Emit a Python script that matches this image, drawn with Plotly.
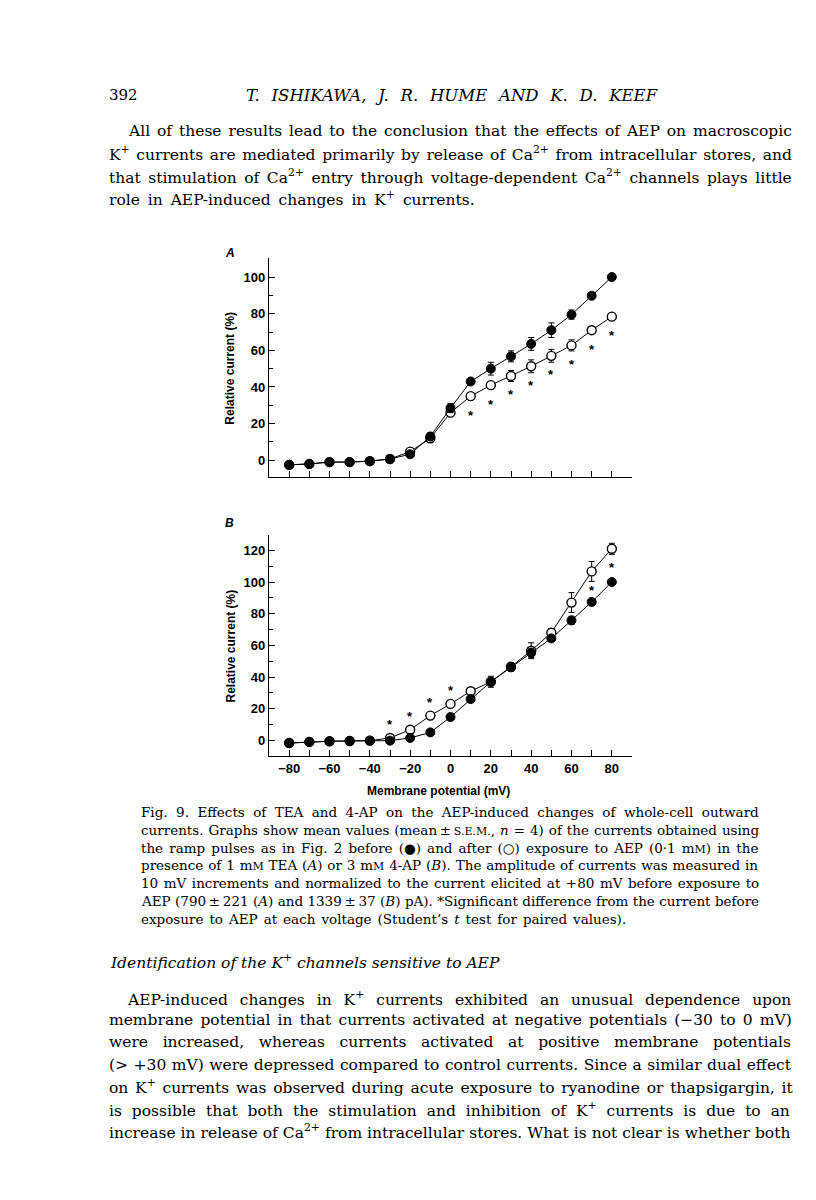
import plotly.graph_objects as go

W, H = 816, 1200

# ---------------- data ----------------
voltage = [-80, -70, -60, -50, -40, -30, -20, -10, 0, 10, 20, 30, 40, 50, 60, 70, 80]

# Panel A (1 mM TEA)
a_before = [-2.5, -2, -1, -1, -0.5, 0.7, 3.3, 13, 28.5, 43, 50, 56.7, 63.5, 71, 79.5, 89.8, 100]
a_before_err = [0, 0, 0, 0, 0, 0, 1, 2, 2.5, 1.5, 3.5, 3, 3.5, 4, 2.5, 1.5, 0]
a_after = [-2.5, -2, -1, -1, -0.5, 0.7, 4.7, 12, 26, 35, 41, 46, 51.3, 57, 62.7, 71, 78.4]
a_after_err = [0, 0, 0, 0, 0, 0, 1, 2, 1.5, 1.5, 1.5, 3, 3.5, 3.5, 3, 1.5, 1.5]
a_sig = [10, 20, 30, 40, 50, 60, 70, 80]          # significant voltages
a_sig_side = ["below"] * 8

# Panel B (3 mM 4-AP)
b_before = [-1.7, -1, -0.6, -0.4, -0.2, -0.2, 1.5, 5, 14.7, 26.1, 37, 46.1, 55.2, 64.4, 75.8, 87.4, 100]
b_before_err = [0, 0, 0, 0, 0, 0, 0, 1, 1.5, 1.5, 3.5, 2.5, 3, 2, 2.5, 1.5, 0]
b_after = [-1.7, -1, -0.6, -0.4, -0.2, 1.5, 6.7, 15.6, 23, 31, 37, 46.5, 56.6, 68, 87, 106.7, 121]
b_after_err = [0, 0, 0, 0, 0, 0, 1, 1, 1.5, 2, 2, 2, 5, 2.5, 6.3, 6.3, 3.5]
b_sig = [-30, -20, -10, 0, 70, 80]
b_sig_side = ["above", "above", "above", "above", "below", "below"]

x_major_ticks = [-80, -60, -40, -20, 0, 20, 40, 60, 80]

# ---------------- page text ----------------
page_number = "392"
running_head = "T. ISHIKAWA, J. R. HUME AND K. D. KEEF"
para1 = [
    "All of these results lead to the conclusion that the effects of AEP on macroscopic",
    "K<sup>+</sup> currents are mediated primarily by release of Ca<sup>2+</sup> from intracellular stores, and",
    "that stimulation of Ca<sup>2+</sup> entry through voltage-dependent Ca<sup>2+</sup> channels plays little",
    "role in AEP-induced changes in K<sup>+</sup> currents.",
]
para1_spacing = [2.0, 1.7, 2.6, 3.0]
SC = "<span style='font-size:11px'>%s</span>"
caption = [
    "Fig. 9. Effects of TEA and 4-AP on the AEP-induced changes of whole-cell outward",
    "currents. Graphs show mean values (mean\u2009±\u2009" + SC % "S.E.M." + ", <i>n</i> = 4) of the currents obtained using",
    "the ramp pulses as in Fig. 2 before (●) and after (○) exposure to AEP (0·1 m" + SC % "M" + ") in the",
    "presence of 1 m" + SC % "M" + " TEA (<i>A</i>) or 3 m" + SC % "M" + " 4-AP (<i>B</i>). The amplitude of currents was measured in",
    "10 mV increments and normalized to the current elicited at +80 mV before exposure to",
    "AEP (790\u2009±\u2009221 (<i>A</i>) and 1339\u2009±\u200937 (<i>B</i>) pA). *Significant difference from the current before",
    "exposure to AEP at each voltage (Student’s <i>t</i> test for paired values).",
]
caption_spacing = [4.15, 0.67, 1.8, 0.6, 1.25, 0.1, 1.7]
heading = "Identification of the K<sup>+</sup> channels sensitive to AEP"
para2 = [
    "AEP-induced changes in K<sup>+</sup> currents exhibited an unusual dependence upon",
    "membrane potential in that currents activated at negative potentials (−30 to 0 mV)",
    "were increased, whereas currents activated at positive membrane potentials",
    "(> +30 mV) were depressed compared to control currents. Since a similar dual effect",
    "on K<sup>+</sup> currents was observed during acute exposure to ryanodine or thapsigargin, it",
    "is possible that both the stimulation and inhibition of K<sup>+</sup> currents is due to an",
    "increase in release of Ca<sup>2+</sup> from intracellular stores. What is not clear is whether both",
]
para2_spacing = [7.0, 2.2, 9.7, 0.6, 1.8, 5.0, 0.1]

# ---------------- figure ----------------
fig = go.Figure()

def add_panel(xa, ya, before, berr, after, aerr):
    fig.add_trace(go.Scatter(
        x=voltage, y=after, mode="lines+markers", xaxis=xa, yaxis=ya,
        line=dict(color="black", width=1),
        marker=dict(symbol="circle", size=9, color="white", line=dict(color="black", width=1.4)),
        error_y=dict(type="data", array=aerr, visible=True, color="black", thickness=1, width=3),
        showlegend=False, cliponaxis=False))
    fig.add_trace(go.Scatter(
        x=voltage, y=before, mode="lines+markers", xaxis=xa, yaxis=ya,
        line=dict(color="black", width=1),
        marker=dict(symbol="circle", size=9, color="black", line=dict(color="black", width=1)),
        error_y=dict(type="data", array=berr, visible=True, color="black", thickness=1, width=3),
        showlegend=False, cliponaxis=False))

add_panel("x", "y", a_before, a_before_err, a_after, a_after_err)
add_panel("x2", "y2", b_before, b_before_err, b_after, b_after_err)

def px_x(p):
    return p / W

def px_y(p):
    return 1 - p / H

ann = []
# asterisks
for xs, side, ser, xr, yr in [(a_sig, a_sig_side, a_after, "x", "y"),
                              (b_sig, b_sig_side, b_after, "x2", "y2")]:
    for v, s in zip(xs, side):
        yv = ser[voltage.index(v)]
        ann.append(dict(x=v, y=yv, xref=xr, yref=yr, text="*", showarrow=False,
                        yshift=(16 if s == "above" else -16) - 3,
                        font=dict(family="Liberation Sans", size=13, color="black", weight="bold")))

axis_font = dict(family="Liberation Sans", size=13, color="black", weight="bold")
title_font = dict(family="Liberation Sans", size=12, color="black", weight="bold")
# y titles
for cy in [(250 + 469.3) / 2, (526.7 + 748.3) / 2]:
    ann.append(dict(x=px_x(222), y=px_y(cy), xref="paper", yref="paper", text="Relative current (%)",
                    textangle=-90, showarrow=False, xanchor="center", yanchor="middle", font=title_font))
ann.append(dict(x=px_x(430), y=px_y(783), xref="paper", yref="paper", text="Membrane potential (mV)",
                showarrow=False, xanchor="center", yanchor="middle", font=title_font))
# panel letters
for lab, cy in [("A", 245), ("B", 515)]:
    ann.append(dict(x=px_x(222), y=px_y(cy), xref="paper", yref="paper", text="<i>%s</i>" % lab,
                    showarrow=False, xanchor="center", yanchor="middle",
                    font=dict(family="Liberation Sans", size=12, color="black", weight="bold")))

serif = "DejaVu Serif"
def text_line(x, y, t, size, italic=False, ws=0):
    if ws:
        t = "<span style='word-spacing:%.2fpx'>%s</span>" % (ws, t)
    ann.append(dict(x=px_x(x), y=px_y(y), xref="paper", yref="paper", text=t, showarrow=False,
                    xanchor="left", yanchor="middle", align="left", borderpad=0,
                    font=dict(family=serif, size=size, color="black",
                              style="italic" if italic else "normal")))

text_line(100, 87, page_number, 15)
ann.append(dict(x=px_x(444), y=px_y(87), xref="paper", yref="paper",
                text="<span style='word-spacing:6.5px'>%s</span>" % running_head, showarrow=False,
                xanchor="center", yanchor="middle",
                font=dict(family=serif, size=16.5, color="black", style="italic")))
for i, t in enumerate(para1):
    text_line(119 if i == 0 else 100, 123 + 22.5 * i, t, 15.5, ws=para1_spacing[i])
for i, t in enumerate(caption):
    text_line(132, 804 + 17.8 * i, t, 13.5, ws=caption_spacing[i])
text_line(101, 953, heading, 15.5, italic=True)
for i, t in enumerate(para2):
    text_line(118 if i == 0 else 100, 990 + 22.2 * i, t, 15.5, ws=para2_spacing[i])

fig.update_layout(annotations=ann)

common_x = dict(range=[-90, 90], showline=True, linecolor="black", linewidth=1.4, mirror=False,
                showgrid=False, zeroline=False, ticks="inside", ticklen=6, tickwidth=1.2,
                tickcolor="black", tickfont=axis_font)
common_y = dict(showline=True, linecolor="black", linewidth=1.4, mirror=False, showgrid=False,
                zeroline=False, ticks="inside", ticklen=6, tickwidth=1.2, tickcolor="black",
                tickfont=axis_font, tick0=0, dtick=20,
                minor=dict(dtick=10, tick0=0, ticks="inside", ticklen=4, tickcolor="black", tickwidth=1.2))

xdom = [261 / W, 624 / W]
fig.update_layout(
    width=W, height=H, autosize=False,
    margin=dict(l=0, r=0, t=0, b=0),
    paper_bgcolor="white", plot_bgcolor="white",
    xaxis=dict(common_x, domain=xdom, anchor="y", tick0=0, dtick=10, showticklabels=False),
    yaxis=dict(common_y, domain=[px_y(469.3), px_y(250)], anchor="x", range=[-9.3, 110.4]),
    xaxis2=dict(common_x, domain=xdom, anchor="y2", tickvals=x_major_ticks,
                minor=dict(dtick=10, tick0=0, ticks="inside", ticklen=6, tickcolor="black", tickwidth=1.2)),
    yaxis2=dict(common_y, domain=[px_y(748.3), px_y(526.7)], anchor="x2", range=[-10.1, 129.9]),
)

fig.write_html("out.html")
